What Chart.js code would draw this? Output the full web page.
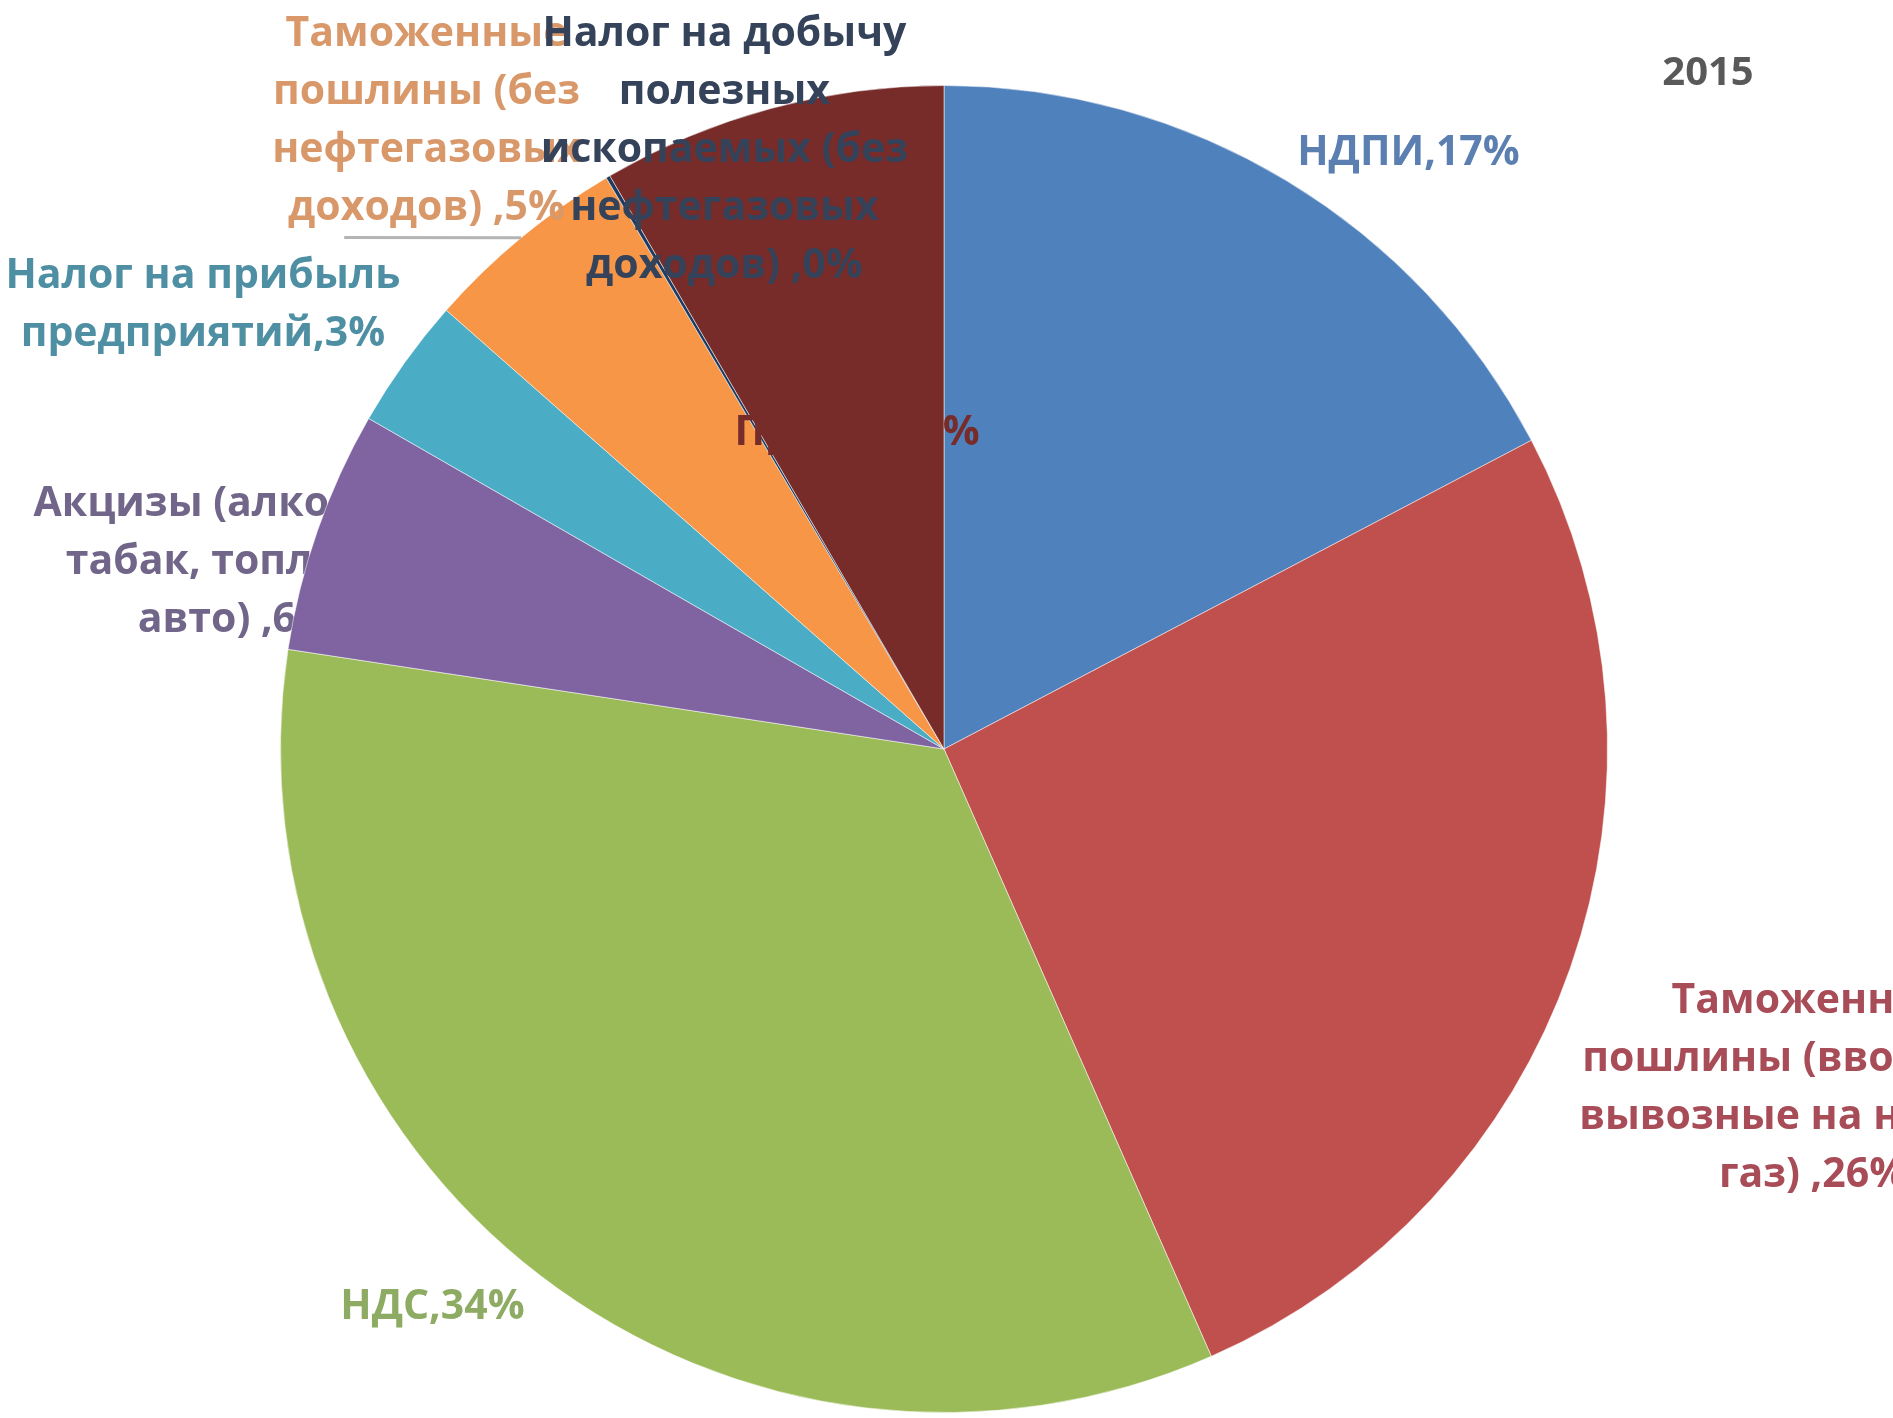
<!DOCTYPE html>
<html>
<head>
<meta charset="utf-8">
<script src="https://cdn.jsdelivr.net/npm/chart.js"></script>
<style>
  html, body { margin: 0; padding: 0; background: #fff; }
  canvas { display: block; }
</style>
</head>
<body>
<canvas id="pie" width="1893" height="1418"></canvas>
<script>
// data (clockwise from 12 o'clock)
const names = [
  ['НДПИ'],
  ['Таможенные', 'пошлины (ввозные и', 'вывозные на нефть и', 'газ) '],
  ['НДС'],
  ['Акцизы (алкоголь,', 'табак, топливо,', 'авто) '],
  ['Налог на прибыль', 'предприятий'],
  ['Таможенные', 'пошлины (без', 'нефтегазовых', 'доходов) '],
  ['Налог на добычу', 'полезных', 'ископаемых (без', 'нефтегазовых', 'доходов) '],
  ['Прочие ']
];
const shares = [17.3, 26.1, 34.0, 5.9, 3.2, 5.0, 0.1, 8.4];
const sliceColors = ['#4f81bd', '#c0504d', '#9bbb59', '#8064a2', '#4bacc6', '#f79646', '#1f3a5f', '#772c2a'];
const labelColors = ['#5b7fb0', '#a84c58', '#8eab63', '#716689', '#4f8fa3', '#d9986a', '#34425a', '#772c2a'];
const yearTitle = '2015';

// label anchors, in pie radii from the centre
const labelPos = [
  [0.700, -0.898], [1.309, 0.512], [-0.771, 0.842], [-1.068, -0.282],
  [-1.117, -0.669], [-0.780, -0.946], [-0.331, -0.902], [-0.131, -0.476]
];
// labels that sit under the pie (hidden where the slice covers them)
const behindPie = [3];

function drawLabels(chart, under) {
  const ctx = chart.ctx;
  const a0 = chart.getDatasetMeta(0).data[0];
  const cx = a0.x, cy = a0.y, R = a0.outerRadius;
  ctx.save();
  ctx.font = 'bold 41px "Open Sans"';
  ctx.textAlign = 'center';
  ctx.textBaseline = 'middle';
  const pitch = 58;
  names.forEach((lines, i) => {
    if (behindPie.includes(i) !== under) return;
    const txt = lines.slice();
    txt[txt.length - 1] += ',' + Math.round(shares[i]) + '%';
    const x = cx + labelPos[i][0] * R;
    const y0 = cy + labelPos[i][1] * R - (txt.length - 1) * pitch / 2;
    ctx.fillStyle = labelColors[i];
    txt.forEach((t, k) => ctx.fillText(t, x, y0 + k * pitch));
  });
  ctx.restore();
}

const labelPlugin = {
  id: 'sliceLabels',
  beforeDatasetsDraw(chart) {
    drawLabels(chart, true);
  },
  afterDraw(chart) {
    const ctx = chart.ctx;
    const meta = chart.getDatasetMeta(0);
    const a0 = meta.data[0];
    const cx = a0.x, cy = a0.y, R = a0.outerRadius;

    // leader line for the orange slice
    const orange = meta.data[5];
    const mid = (orange.startAngle + orange.endAngle) / 2;
    ctx.save();
    ctx.strokeStyle = '#b4b4b4';
    ctx.lineWidth = 3;
    ctx.beginPath();
    ctx.moveTo(cx - 0.904 * R, cy - 0.771 * R);
    ctx.lineTo(cx + R * Math.cos(mid), cy + R * Math.sin(mid));
    ctx.stroke();
    ctx.restore();

    drawLabels(chart, false);

    ctx.save();
    ctx.font = 'bold 40px "Open Sans"';
    ctx.textAlign = 'center';
    ctx.textBaseline = 'middle';
    ctx.fillStyle = '#595959';
    ctx.fillText(yearTitle, 1708, 74);
    ctx.restore();
  }
};

new Chart(document.getElementById('pie'), {
  type: 'pie',
  data: {
    labels: names.map(n => n.join(' ')),
    datasets: [{
      data: shares,
      backgroundColor: sliceColors,
      borderColor: 'rgba(255,255,255,0.5)',
      borderWidth: 1
    }]
  },
  options: {
    responsive: false,
    animation: false,
    devicePixelRatio: 1,
    layout: { padding: { top: 85, bottom: 5, left: 280, right: 285 } },
    plugins: {
      legend: { display: false },
      tooltip: { enabled: false }
    }
  },
  plugins: [labelPlugin]
});
</script>
</body>
</html>
